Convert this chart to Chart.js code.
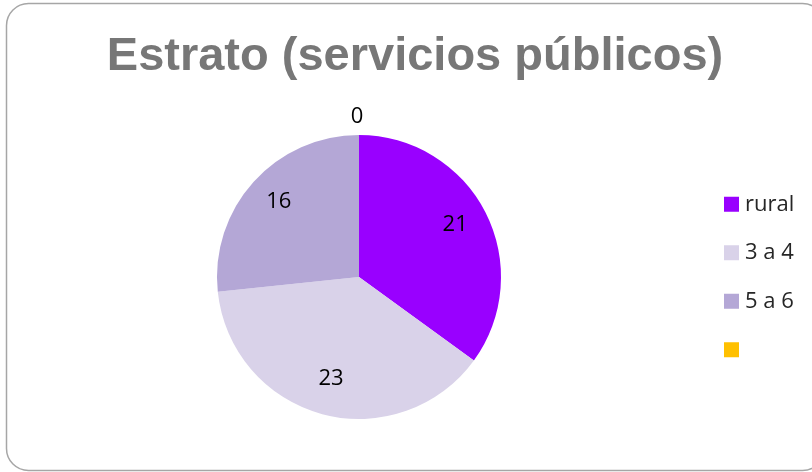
<!DOCTYPE html>
<html>
<head>
<meta charset="utf-8">
<script src="https://cdn.jsdelivr.net/npm/chart.js@4"></script>
<style>
  html, body { margin: 0; padding: 0; background: #fff; }
  #wrap { width: 812px; height: 472px; }
</style>
</head>
<body>
<div id="wrap"><canvas id="grafica" width="812" height="472"></canvas></div>
<script>
const titulo = "Estrato (servicios públicos)";
const categorias = ["rural", "3 a 4", "5 a 6", ""];
const valores = [21, 23, 16, 0];
const colores = ["#9900ff", "#d9d2e9", "#b4a7d6", "#ffc000"];

// marco redondeado y titulo
const marcoPlugin = {
    id: "marco",
    beforeDraw(chart) {
        const ctx = chart.ctx;
        ctx.save();
        ctx.fillStyle = "#fff";
        ctx.fillRect(0, 0, chart.width, chart.height);
        ctx.beginPath();
        ctx.roundRect(6.5, 3.5, 818, 467, 22);
        ctx.strokeStyle = "#a6a6a6";
        ctx.lineWidth = 1.5;
        ctx.stroke();
        ctx.fillStyle = "#777777";
        ctx.font = "bold 47px 'Liberation Sans', Arial, sans-serif";
        ctx.textAlign = "center";
        ctx.textBaseline = "alphabetic";
        ctx.fillText(titulo, 415, 70);
        ctx.restore();
    }
};

// etiquetas de valor sobre cada porcion
const etiquetasPlugin = {
    id: "etiquetas",
    afterDatasetsDraw(chart) {
        const ctx = chart.ctx;
        const meta = chart.getDatasetMeta(0);
        ctx.save();
        ctx.fillStyle = "#000";
        ctx.font = "22px 'Open Sans', sans-serif";
        ctx.textAlign = "center";
        ctx.textBaseline = "middle";
        meta.data.forEach((arco, i) => {
            const vacio = valores[i] === 0;
            const medio = (arco.startAngle + arco.endAngle) / 2;
            // las porciones vacias llevan la etiqueta por fuera
            const r = vacio ? arco.outerRadius * 1.13 : arco.outerRadius * 0.76;
            const x = arco.x + Math.cos(medio) * r;
            const y = arco.y + Math.sin(medio) * r;
            ctx.fillText(String(valores[i]), x - (vacio ? 2 : 0), y - (vacio ? 0 : 3));
        });
        ctx.restore();
    }
};

// leyenda a la derecha
const leyendaPlugin = {
    id: "leyenda",
    afterDraw(chart) {
        const ctx = chart.ctx;
        const yCentro = (chart.chartArea.top + chart.chartArea.bottom) / 2;
        const paso = 48.5;
        const y0 = yCentro - paso * (categorias.length - 1) / 2;
        ctx.save();
        ctx.font = "22px 'Open Sans', sans-serif";
        ctx.textBaseline = "middle";
        ctx.textAlign = "left";
        categorias.forEach((cat, i) => {
            const y = y0 + i * paso;
            ctx.fillStyle = colores[i];
            ctx.fillRect(724, y - 7.5, 15, 15);
            ctx.fillStyle = "#262626";
            ctx.fillText(cat, 745, y);
        });
        ctx.restore();
    }
};

new Chart(document.getElementById("grafica"), {
    type: "pie",
    data: {
        labels: categorias,
        datasets: [{
            data: valores,
            backgroundColor: colores,
            borderWidth: 0
        }]
    },
    options: {
        responsive: false,
        animation: false,
        layout: {
            padding: { left: 217, right: 311, top: 135, bottom: 53 }
        },
        plugins: {
            legend: { display: false },
            title: { display: false },
            tooltip: { enabled: false }
        }
    },
    plugins: [marcoPlugin, etiquetasPlugin, leyendaPlugin]
});
</script>
</body>
</html>
